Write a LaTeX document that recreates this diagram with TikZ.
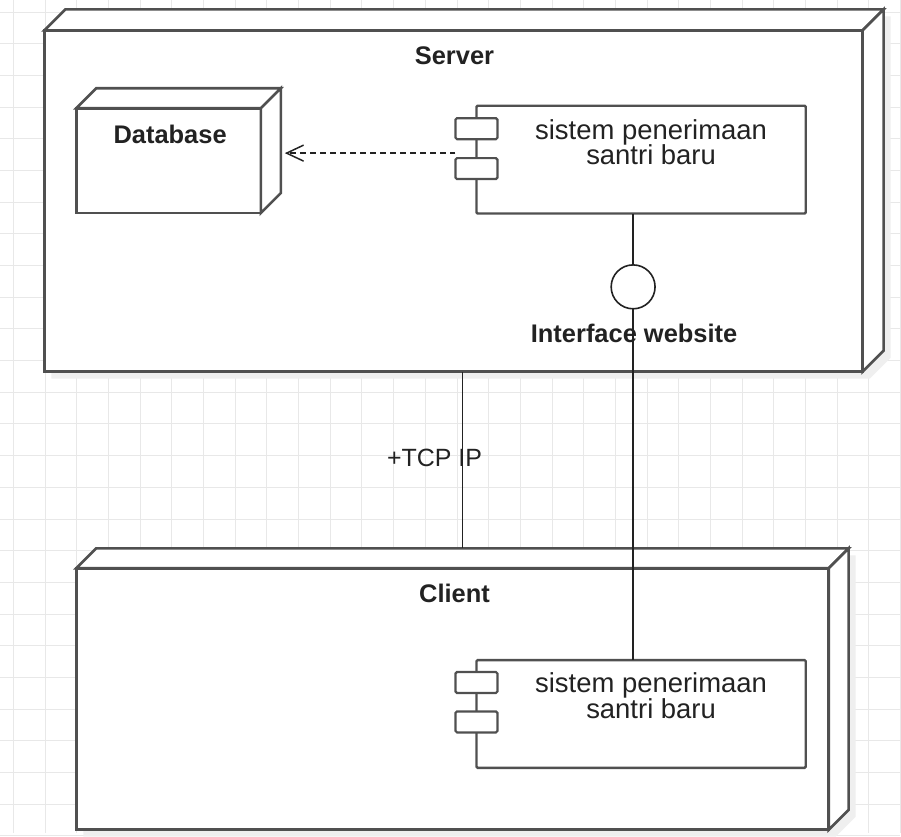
\documentclass[tikz,border=0pt]{standalone}
\usepackage{fontspec}
\setmainfont{Liberation Sans}
\usetikzlibrary{calc,arrows.meta}
\definecolor{edge}{HTML}{505050}
\definecolor{ink}{HTML}{222222}
\definecolor{gridc}{HTML}{E8E8E8}
\definecolor{shadowc}{HTML}{EFEFEF}
\pgfdeclarelayer{bg}
\pgfdeclarelayer{shadowlayer}
\pgfsetlayers{bg,shadowlayer,main}
\newcommand\boxdepth[2]{%
  \filldraw[fill=white, draw=edge, line width=2.6pt, line join=miter]
    (#1.north west) -- ++(#2,-#2) -- ($(#1.north east)+(#2,-#2)$) -- (#1.north east) -- cycle;
  \filldraw[fill=white, draw=edge, line width=2.6pt, line join=miter]
    (#1.north east) -- ++(#2,-#2) -- ($(#1.south east)+(#2,-#2)$) -- (#1.south east) -- cycle;
  \begin{pgfonlayer}{shadowlayer}
    \fill[shadowc] ($(#1.north west)+(7,7)$) -- ($(#1.north west)+(#2+7,-#2+7)$)
      -- ($(#1.north east)+(#2+7,-#2+7)$) -- ($(#1.south east)+(#2+7,-#2+7)$)
      -- ($(#1.south east)+(7,7)$) -- ($(#1.south west)+(7,7)$) -- cycle;
  \end{pgfonlayer}
}
\newcommand\compshadow[1]{%
  \begin{pgfonlayer}{shadowlayer}
    \fill[shadowc] ($(#1.north west)+(8,8)$) rectangle ($(#1.south east)+(8,8)$);
  \end{pgfonlayer}
}
\begin{document}
\begin{tikzpicture}[x=1pt,y=-1pt,
  face/.style={draw=edge, line width=2.6pt, fill=white, rectangle, inner sep=0pt, outer sep=0pt},
  comp/.style={draw=edge, line width=2.4pt, fill=white, rectangle, rounded corners=1.2pt,
    inner sep=0pt, outer sep=0pt, minimum width=330pt, minimum height=108pt},
  tabbox/.style={draw=edge, line width=2.2pt, fill=white, rounded corners=1.5pt,
    minimum width=42pt, minimum height=21pt, inner sep=0pt, outer sep=0pt},
  title/.style={font=\fontsize{25.5}{28}\selectfont\bfseries, text=ink, inner sep=0pt, anchor=base},
  ctext/.style={font=\fontsize{27.5}{28}\selectfont, text=ink, inner sep=0pt, anchor=base},
  plain/.style={font=\fontsize{25}{28}\selectfont, text=ink, inner sep=0pt, anchor=base},
  wire/.style={draw=ink, line width=1.6pt},
  dep/.style={draw=ink, line width=1.6pt, dash pattern=on 6pt off 4pt,
    -{Straight Barb[length=17pt,width=16pt,line width=1.5pt]}},
  iface/.style={draw=ink, line width=1.6pt, fill=white, circle, minimum size=44pt, inner sep=0pt, outer sep=0pt}
]
\begin{pgfonlayer}{bg}
  \fill[white] (0,0) rectangle (901,834);
  \foreach \i in {0,...,28} \draw[gridc, line width=0.9pt] (13+31.75*\i,0) -- (13+31.75*\i,834);
  \foreach \j in {0,...,26} \draw[gridc, line width=0.9pt] (0,11.6+31.75*\j) -- (901,11.6+31.75*\j);
\end{pgfonlayer}
\useasboundingbox (0,0) rectangle (901,834);

% Server node
\node[face, minimum width=820pt, minimum height=342pt] (srv) at (454,201) {};
\boxdepth{srv}{21}
\node[title] (srvlabel) at (455,64) {Server};

% Database node
\node[face, minimum width=185pt, minimum height=105pt] (db) at (168.5,160.5) {};
\boxdepth{db}{20}
\node[title] (dblabel) at (170,143) {Database};

% Server component
\node[comp] (comp1) at (642,159.5) {};
\compshadow{comp1}
\node[tabbox] (tab1a) at (477,128.5) {};
\node[tabbox] (tab1b) at (477,168.5) {};
\node[ctext] (c1a) at (652,139) {sistem penerimaan};
\node[ctext] (c1b) at (652,164) {santri baru};

% Interface
\node[iface] (ifc) at (634,287) {};
\begin{pgfonlayer}{shadowlayer}
  \fill[shadowc] ($(ifc)+(4,4)$) circle (22);
\end{pgfonlayer}
\node[title] (ifclabel) at (635,343) {Interface website};

% Client node
\node[face, minimum width=754pt, minimum height=262pt] (cli) at (453,700) {};
\boxdepth{cli}{20}
\node[title] (clilabel) at (455,603) {Client};

% Client component
\node[comp] (comp2) at (642,715) {};
\compshadow{comp2}
\node[tabbox] (tab2a) at (477,683.5) {};
\node[tabbox] (tab2b) at (477,723) {};
\node[ctext] (c2a) at (652,694) {sistem penerimaan};
\node[ctext] (c2b) at (652,720) {santri baru};

% TCP label
\node[plain] (tcp) at (435,467) {+TCP IP};

% Connectors
\coordinate (dsrc) at (456,153);
\coordinate (dbtip) at ($(db.east)+(24,0)$);
\draw[dep] (dsrc) -- (dsrc -| dbtip);
\draw[wire] (comp1.south -| ifc) -- (ifc.north);
\draw[wire] (ifc.south) -- (ifc.south |- comp2.north);
\coordinate (tcptop) at ($(srv.south)+(9,0)$);
\coordinate (clitop) at ($(cli.north)+(0,-20)$);
\draw[wire] (tcptop) -- (tcptop |- clitop);
\end{tikzpicture}
\end{document}
